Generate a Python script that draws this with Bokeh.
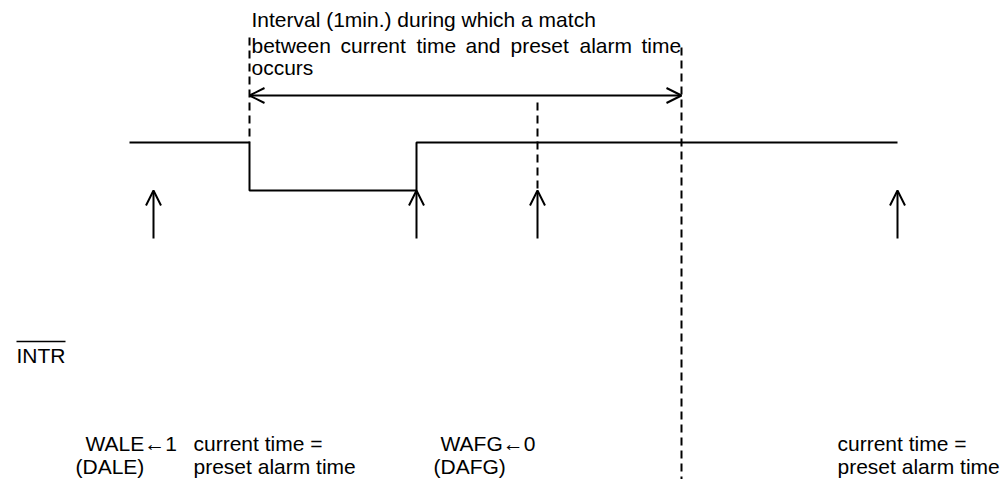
from bokeh.plotting import figure
from bokeh.models import Range1d, Arrow, OpenHead
from bokeh.core.properties import value
from bokeh.embed import file_html
from bokeh.resources import INLINE

# ---- timing data (positions along the time axis) ----
wave_t = [129, 249, 249, 416, 416, 897]
wave_state = [1, 1, 0, 0, 1, 1]          # 1 = high, 0 = low
clock_t = [153, 416, 537, 897]           # count-up arrows
match_start = 249
match_end = 681
flag_clear = 537

title_lines = ["Interval (1min.) during which a match", "occurs"]
line2_words = ["between", "current", "time", "and", "preset", "alarm", "time"]
line2_x = [251, 340, 416, 465, 510, 579, 641]

bottom_texts = ["WALE\u21901", "(DALE)", "current time =", "preset alarm time",
                "WAFG\u21900", "(DAFG)", "current time =", "preset alarm time"]
bottom_x = [85, 75, 193, 193, 440, 433, 837, 837]
bottom_row = [0, 1, 0, 1, 0, 1, 0, 1]

# ---- layout constants ----
HIGH_Y, LOW_Y = 142, 190
ARROW_TOP, ARROW_BOT = 190, 238
FONT = value("Liberation Sans")
FS = value("21px")
DY = -8  # baseline correction for text rendering

W, H = 1006, 479
p = figure(width=W, height=H, x_range=Range1d(0, W), y_range=Range1d(H, 0),
           output_backend="svg", toolbar_location=None,
           x_axis_type=None, y_axis_type=None, min_border=0)
p.grid.visible = False
p.outline_line_color = None
p.background_fill_color = "white"
p.border_fill_color = "white"

# waveform
wy = [HIGH_Y if s else LOW_Y for s in wave_state]
p.line(wave_t, wy, line_color="black", line_width=2)

# dashed verticals
p.segment(x0=[match_start, match_end, flag_clear], y0=[37, 47, 102],
          x1=[match_start, match_end, flag_clear], y1=[HIGH_Y, 480, ARROW_TOP],
          line_color="black", line_width=2, line_dash="8 5")

# clock arrows
for t in clock_t:
    p.add_layout(Arrow(end=OpenHead(size=15, line_width=2, line_color="black"),
                       x_start=t, y_start=ARROW_BOT, x_end=t, y_end=ARROW_TOP,
                       line_width=2, line_color="black"))

# interval double arrow
p.add_layout(Arrow(start=OpenHead(size=15, line_width=2, line_color="black"),
                   end=OpenHead(size=15, line_width=2, line_color="black"),
                   x_start=match_start, y_start=95, x_end=match_end, y_end=95,
                   line_width=2, line_color="black"))

# title text
p.text(x=[251, 251], y=[27 + DY, 75 + DY], text=title_lines, text_font=FONT, text_font_size=FS,
       text_baseline="alphabetic", text_align="left", text_color="black")
p.text(x=line2_x, y=[53 + DY] * len(line2_x), text=line2_words, text_font=FONT, text_font_size=FS,
       text_baseline="alphabetic", text_align="left", text_color="black")

# INTR
p.text(x=[16], y=[363 + DY], text=["INTR"], text_font=FONT, text_font_size=FS,
       text_baseline="alphabetic", text_align="left", text_color="black")
p.segment(x0=[16], y0=[341], x1=[65], y1=[341], line_color="black", line_width=1.5)

# bottom labels
by = [(451 if r == 0 else 474) + DY for r in bottom_row]
p.text(x=bottom_x, y=by, text=bottom_texts, text_font=FONT, text_font_size=FS,
       text_baseline="alphabetic", text_align="left", text_color="black")

open("out.html", "w").write(file_html(p, INLINE))
